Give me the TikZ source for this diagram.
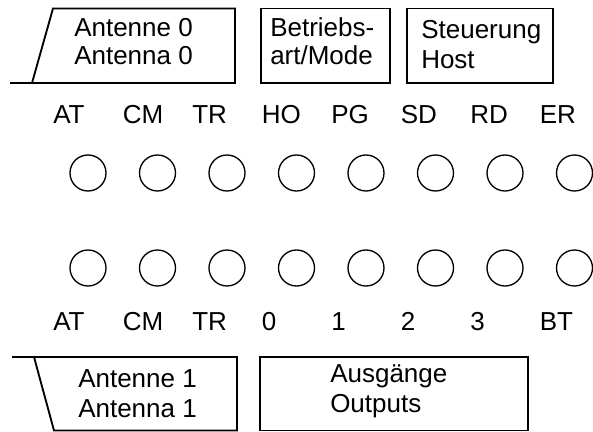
\documentclass[tikz,border=0pt]{standalone}
\usepackage{fontspec}
\setmainfont{Liberation Sans}

\tikzset{
  boxline/.style={line width=1.4pt, line join=miter},
  led/.style={circle, draw, line width=1pt, minimum size=27pt, inner sep=0pt},
  ledlabel/.style={anchor=base west, inner sep=0pt},
  boxtext/.style={anchor=base west, inner sep=0pt}
}

\begin{document}
\begin{tikzpicture}[x=0.75pt, y=0.75pt, font=\fontsize{19.5}{23}\selectfont]
      \useasboundingbox (0,0) rectangle (593,432);

      % Constants
      \def\colstep{69.5}  % distance between two columns
      \def\colstart{53}   % left edge of the first column
      \def\ledshift{35}   % LED centre right of the column edge

      % Upper row: labels and LEDs
      \foreach \t [count=\i from 0] in {AT,CM,TR,HO,PG,SD,RD,ER} {
          \pgfmathsetmacro{\xx}{\colstart + \colstep*\i}
          \node[ledlabel] (uplbl\i) at (\xx, 308) {\t};
          \node[led] (upled\i) at (\xx+\ledshift, 259) {};
        }

      % Lower row: LEDs and labels
      \foreach \t [count=\i from 0] in {AT,CM,TR,0,1,2,3,BT} {
          \pgfmathsetmacro{\xx}{\colstart + \colstep*\i}
          \node[led] (loled\i) at (\xx+\ledshift, 164) {};
          \node[ledlabel] (lolbl\i) at (\xx, 101) {\t};
        }

      % Boxes on top
      \draw[boxline] (10,349) -- (235,349) -- (235,423.5) -- (53,423.5) -- (32,349);
      \node[boxtext] (antzeroa) at (74,395) {Antenne 0};
      \node[boxtext] (antzerob) at (74,367) {Antenna 0};

      \draw[boxline] (261,349) rectangle (390,423.5);
      \node[boxtext] (modea) at (270,395) {Betriebs-};
      \node[boxtext] (modeb) at (270,367) {art/Mode};

      \draw[boxline] (407,349) rectangle (553,423.5);
      \node[boxtext] (hosta) at (421,393) {Steuerung};
      \node[boxtext] (hostb) at (421,363) {Host};

      % Boxes at the bottom
      \draw[boxline] (12,75) -- (237,75) -- (237,1.5) -- (54,1.5) -- (34,75);
      \node[boxtext] (antonea) at (78,44) {Antenne 1};
      \node[boxtext] (antoneb) at (78,14) {Antenna 1};

      \draw[boxline] (260,1.5) rectangle (528,75);
      \node[boxtext] (outa) at (330,49) {Ausgänge};
      \node[boxtext] (outb) at (330,19) {Outputs};

    \end{tikzpicture}
\end{document}
